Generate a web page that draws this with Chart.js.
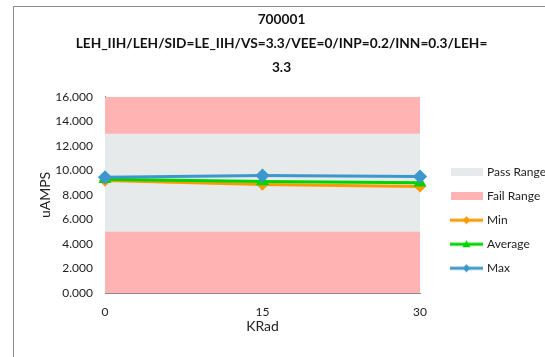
<!DOCTYPE html>
<html>
<head>
<meta charset="utf-8">
<script src="https://cdn.jsdelivr.net/npm/chart.js@4.4.1/dist/chart.umd.min.js"></script>
<style>
  body { margin: 0; background: #fff; }
  #wrap { position: relative; width: 545px; height: 357px; overflow: hidden; }
  #frame { position: absolute; left: 13px; top: 6px; width: 600px; height: 400px; border: 1px solid #8c8c8c; box-sizing: border-box; }
  canvas { position: absolute; left: 0; top: 0; }
</style>
</head>
<body>
<div id="wrap">
  <div id="frame"></div>
  <canvas id="chart" width="545" height="357"></canvas>
</div>
<script>
const titleLines = ["700001", "LEH_IIH/LEH/SID=LE_IIH/VS=3.3/VEE=0/INP=0.2/INN=0.3/LEH=", "3.3"];
const kradLabels = ["0", "15", "30"];
const passTop = [13, 13, 13];
const passBottom = 5;
const failTop = [16, 16, 16];
const minVals = [9.17, 8.85, 8.7];
const avgVals = [9.28, 9.1, 9.0];
const maxVals = [9.44, 9.58, 9.5];

const fontFam = "Lato, 'Open Sans', sans-serif";
const ICON_W = 49;
const PAD = 10; // extra room on each side of the icon canvas

// legend icons: canvas wider than the legend box, drawing sits just left of the text
function rectIcon(color) {
  const c = document.createElement("canvas");
  c.width = ICON_W + 2 * PAD; c.height = 8;
  const g = c.getContext("2d");
  g.fillStyle = color;
  g.fillRect(PAD + ICON_W - 30, 0, 32, 8);
  return c;
}

function lineIcon(color, marker) {
  const c = document.createElement("canvas");
  c.width = ICON_W + 2 * PAD; c.height = 10;
  const g = c.getContext("2d");
  const x0 = PAD + ICON_W - 31, x1 = PAD + ICON_W + 2, mx = (x0 + x1) / 2;
  g.strokeStyle = color;
  g.lineWidth = 3;
  g.beginPath(); g.moveTo(x0, 5); g.lineTo(x1, 5); g.stroke();
  g.fillStyle = color;
  g.beginPath();
  if (marker === "tri") {
    g.moveTo(mx, 1); g.lineTo(mx + 4, 8); g.lineTo(mx - 4, 8);
  } else {
    g.moveTo(mx, 1); g.lineTo(mx + 4, 5); g.lineTo(mx, 9); g.lineTo(mx - 4, 5);
  }
  g.closePath(); g.fill();
  return c;
}

const icons = [
  rectIcon("#e6eaea"),
  rectIcon("#ffb3b3"),
  lineIcon("#f99a00", "dia"),
  lineIcon("#00d400", "tri"),
  lineIcon("#3c98cc", "dia")
];

new Chart(document.getElementById("chart"), {
  type: "line",
  data: {
    labels: kradLabels,
    datasets: [
      { label: "Pass Range", data: passTop, borderWidth: 0, pointRadius: 0, backgroundColor: "#e6eaea", fill: { value: passBottom }, order: 9 },
      { label: "Fail Range", data: failTop, borderWidth: 0, pointRadius: 0, backgroundColor: "#ffb3b3", fill: "origin", order: 10 },
      { label: "Min", data: minVals, borderColor: "#f99a00", backgroundColor: "#f99a00", borderWidth: 3, pointStyle: "rectRot", pointRadius: 4, order: 3 },
      { label: "Average", data: avgVals, borderColor: "#00d400", backgroundColor: "#00d400", borderWidth: 3, pointStyle: "triangle", pointRadius: 4.5, order: 2 },
      { label: "Max", data: maxVals, borderColor: "#3c98cc", backgroundColor: "#3c98cc", borderWidth: 3, pointStyle: "rectRot", pointRadius: 5, order: 1 }
    ]
  },
  options: {
    responsive: false,
    animation: false,
    layout: { padding: { left: 18, right: 0, top: 0, bottom: 18 } },
    plugins: {
      title: {
        display: true,
        text: titleLines,
        color: "#111",
        font: { family: fontFam, size: 13.7, weight: "bold", lineHeight: 1.75 },
        padding: { top: 8, bottom: 17 }
      },
      legend: {
        position: "right",
        align: "start",
        maxWidth: 125,
        title: { display: true, text: "", font: { size: 1 }, padding: { top: 153, bottom: 0 } },
        labels: {
          usePointStyle: true,
          pointStyleWidth: ICON_W,
          padding: 12,
          color: "#222",
          font: { family: fontFam, size: 12 },
          generateLabels: (chart) => chart.data.datasets.map((ds, i) => ({
            text: ds.label,
            pointStyle: icons[i],
            fillStyle: "transparent",
            strokeStyle: "transparent",
            lineWidth: 0,
            fontColor: "#222",
            datasetIndex: i
          }))
        }
      },
      tooltip: { enabled: false }
    },
    scales: {
      x: {
        afterFit: (s) => { s.height = 46; },
        grid: { display: false, drawTicks: true, tickLength: 5, color: "#8c8c8c" },
        border: { color: "#8c8c8c" },
        ticks: { color: "#222", padding: 7, font: { family: fontFam, size: 12 } },
        title: { display: true, text: "KRad", color: "#222", font: { family: fontFam, size: 14 } }
      },
      y: {
        min: 0, max: 16,
        afterFit: (s) => { s.width = 87; },
        grid: { display: false, drawTicks: true, tickLength: 4, color: "#8c8c8c" },
        border: { color: "#8c8c8c" },
        ticks: { stepSize: 2, color: "#222", padding: 8, font: { family: fontFam, size: 12 }, callback: (v) => v.toFixed(3) },
        title: { display: true, text: "uAMPS", color: "#222", padding: { top: 18.6, bottom: 0 }, font: { family: fontFam, size: 14 } }
      }
    }
  }
});
</script>
</body>
</html>
